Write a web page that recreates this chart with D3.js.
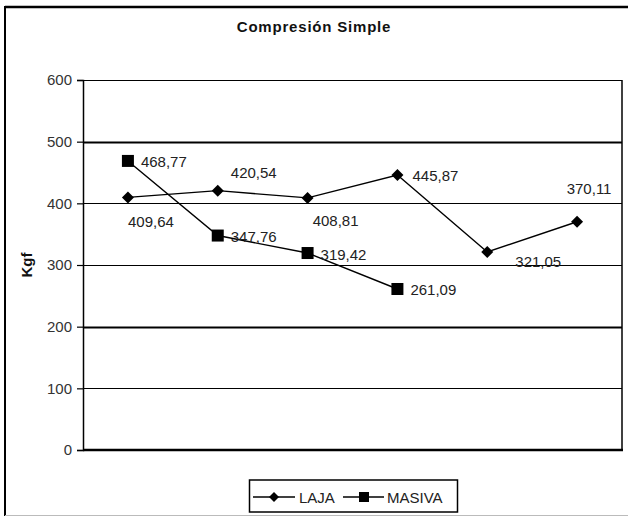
<!DOCTYPE html>
<html>
<head>
<meta charset="utf-8">
<script src="https://cdn.jsdelivr.net/npm/d3@7"></script>
<style>
  html, body { margin: 0; padding: 0; background: #fff; }
  svg { display: block; }
  text { font-family: "Liberation Sans", Arial, sans-serif; }
</style>
</head>
<body>
<script>
// Compression test results (Kgf) for two rock types
const categories = ["1", "2", "3", "4", "5", "6"];
const lajaValues = [409.64, 420.54, 408.81, 445.87, 321.05, 370.11];
const masivaValues = [468.77, 347.76, 319.42, 261.09];
const yTicks = [0, 100, 200, 300, 400, 500, 600];
const seriesNames = ["LAJA", "MASIVA"];
const chartTitle = "Compresión Simple";
const yTitle = "Kgf";

// label placement relative to each point (dx, dy, anchor)
const lajaLabelOffsets = [[23, 24], [36, -18], [28, 23], [38, 0], [51, 9], [12, -33]];

const W = 628, H = 517;
const M = { left: 83, right: 622, top: 80, bottom: 450 };

const svg = d3.select("body").append("svg")
  .attr("width", W).attr("height", H);

// outer frame
svg.append("rect").attr("x", 0).attr("y", 0).attr("width", W).attr("height", H).attr("fill", "#fff");
svg.append("line").attr("x1", 5).attr("x2", W).attr("y1", 7).attr("y2", 7)
  .attr("stroke", "#000").attr("stroke-width", 2.5);
svg.append("line").attr("x1", 5).attr("x2", 5).attr("y1", 6).attr("y2", 516)
  .attr("stroke", "#000").attr("stroke-width", 2);
svg.append("line").attr("x1", 5).attr("x2", W).attr("y1", 515.5).attr("y2", 515.5)
  .attr("stroke", "#bbb").attr("stroke-width", 1);

const x = d3.scaleBand().domain(categories).range([M.left, M.right]);
const y = d3.scaleLinear().domain([0, 600]).range([M.bottom, M.top]);
const cx = i => x(categories[i]) + x.bandwidth() / 2;

// gridlines
svg.append("g").selectAll("line").data(yTicks.filter(d => d > 0)).join("line")
  .attr("x1", M.left).attr("x2", M.right)
  .attr("y1", d => Math.round(y(d)) + 0.5).attr("y2", d => Math.round(y(d)) + 0.5)
  .attr("stroke", "#000").attr("stroke-width", d => (d === 200 || d === 500) ? 1.8 : 1.2);

// right border of plot area
svg.append("line").attr("x1", M.right).attr("x2", M.right).attr("y1", M.top).attr("y2", M.bottom)
  .attr("stroke", "#000").attr("stroke-width", 1.5);

// y axis
const yAxis = d3.axisLeft(y).tickValues(yTicks).tickSize(6).tickPadding(5).tickFormat(d3.format("d"));
const gy = svg.append("g").attr("transform", `translate(${M.left},0)`).call(yAxis);
gy.select(".domain").attr("stroke", "#000").attr("stroke-width", 1.5);
gy.selectAll(".tick line").attr("stroke", "#000").attr("stroke-width", 1.2);
gy.selectAll(".tick text").attr("fill", "#333").attr("font-size", 15)
  .attr("font-family", "Liberation Sans, Arial, sans-serif");

// x axis (no tick labels)
svg.append("line").attr("x1", M.left).attr("x2", M.right + 1).attr("y1", M.bottom).attr("y2", M.bottom)
  .attr("stroke", "#000").attr("stroke-width", 2.5);

// titles
svg.append("text").attr("x", 314).attr("y", 32).attr("text-anchor", "middle")
  .attr("font-weight", "bold").attr("font-size", 15).attr("letter-spacing", 0.8)
  .attr("fill", "#111").text(chartTitle);
svg.append("text").attr("transform", `translate(32,${y(300)}) rotate(-90)`)
  .attr("text-anchor", "middle").attr("font-weight", "bold").attr("font-size", 15)
  .attr("fill", "#111").text(yTitle);

const line = d3.line().x((d, i) => cx(i)).y(d => y(d));

// LAJA series
svg.append("path").datum(lajaValues).attr("d", line)
  .attr("fill", "none").attr("stroke", "#000").attr("stroke-width", 1.4);
svg.append("g").selectAll("path").data(lajaValues).join("path")
  .attr("transform", (d, i) => `translate(${cx(i)},${y(d)})`)
  .attr("d", "M0,-6L6,0L0,6L-6,0Z").attr("fill", "#000");

// MASIVA series
svg.append("path").datum(masivaValues).attr("d", line)
  .attr("fill", "none").attr("stroke", "#000").attr("stroke-width", 1.4);
svg.append("g").selectAll("rect").data(masivaValues).join("rect")
  .attr("x", (d, i) => cx(i) - 6).attr("y", d => y(d) - 6)
  .attr("width", 12).attr("height", 12).attr("fill", "#000");

const fmt = v => d3.format(".2f")(v).replace(".", ",");

// value labels
svg.append("g").selectAll("text").data(lajaValues).join("text")
  .attr("x", (d, i) => cx(i) + lajaLabelOffsets[i][0])
  .attr("y", (d, i) => y(d) + lajaLabelOffsets[i][1])
  .attr("text-anchor", "middle").attr("dominant-baseline", "central")
  .attr("font-size", 15).attr("fill", "#222").text(fmt);
svg.append("g").selectAll("text").data(masivaValues).join("text")
  .attr("x", (d, i) => cx(i) + 13).attr("y", d => y(d) + 1)
  .attr("dominant-baseline", "central")
  .attr("font-size", 15).attr("fill", "#222").text(fmt);

// legend
const lg = svg.append("g");
lg.append("rect").attr("x", 249.5).attr("y", 480).attr("width", 208).attr("height", 32)
  .attr("fill", "#fff").attr("stroke", "#000").attr("stroke-width", 1.5);
const ly = 497;
lg.append("line").attr("x1", 253).attr("x2", 295).attr("y1", ly).attr("y2", ly).attr("stroke", "#000").attr("stroke-width", 1.4);
lg.append("path").attr("transform", `translate(274,${ly})`).attr("d", "M0,-5L5,0L0,5L-5,0Z").attr("fill", "#000");
lg.append("text").attr("x", 299).attr("y", ly).attr("dominant-baseline", "central")
  .attr("font-size", 15).attr("fill", "#222").text(seriesNames[0]);
lg.append("line").attr("x1", 343).attr("x2", 384).attr("y1", ly).attr("y2", ly).attr("stroke", "#000").attr("stroke-width", 1.4);
lg.append("rect").attr("x", 359).attr("y", ly - 5).attr("width", 10).attr("height", 10).attr("fill", "#000");
lg.append("text").attr("x", 387).attr("y", ly).attr("dominant-baseline", "central")
  .attr("font-size", 15).attr("fill", "#222").text(seriesNames[1]);
</script>
</body>
</html>
